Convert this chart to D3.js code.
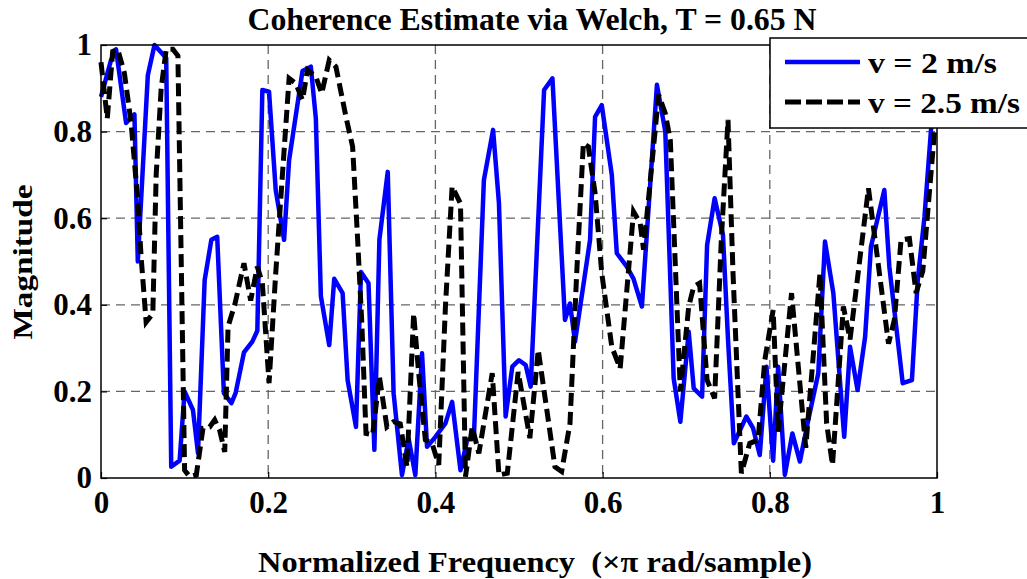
<!DOCTYPE html>
<html>
<head>
<meta charset="utf-8">
<script src="https://cdn.jsdelivr.net/npm/d3@7"></script>
<style>
  body { margin: 0; background: #fff; }
  svg text { font-family: "Liberation Serif", "DejaVu Serif", serif; font-weight: bold; }
</style>
</head>
<body>
<svg id="chart" width="1027" height="579"></svg>
<script>
// series v = 2 m/s (blue, solid)
var freqA = [0.000,0.012,0.018,0.030,0.040,0.044,0.056,0.064,0.078,0.084,0.094,0.100,0.110,0.116,0.124,0.132,0.139,0.147,0.156,0.161,
  0.171,0.181,0.187,0.193,0.201,0.209,0.219,0.225,0.241,0.251,0.257,0.263,0.273,0.279,0.289,0.295,0.305,0.311,0.320,0.327,
  0.333,0.343,0.350,0.360,0.368,0.376,0.384,0.390,0.400,0.412,0.420,0.430,0.438,0.446,0.458,0.469,0.476,0.484,0.492,0.500,
  0.508,0.514,0.530,0.540,0.555,0.561,0.567,0.585,0.591,0.599,0.611,0.617,0.629,0.637,0.647,0.665,0.675,0.685,0.693,0.703,
  0.709,0.719,0.725,0.734,0.744,0.750,0.757,0.772,0.780,0.788,0.796,0.804,0.810,0.818,0.827,0.836,0.846,0.858,0.866,0.876,
  0.889,0.896,0.905,0.914,0.921,0.937,0.943,0.959,0.970,0.977,0.985,0.993,1.000];
var magA = [0.88,0.965,0.99,0.82,0.84,0.50,0.93,1.00,0.97,0.026,0.04,0.20,0.157,0.058,0.457,0.55,0.557,0.196,0.173,0.196,
  0.29,0.315,0.34,0.896,0.892,0.665,0.55,0.734,0.94,0.95,0.83,0.42,0.307,0.46,0.427,0.226,0.118,0.476,0.45,0.065,
  0.55,0.707,0.196,0.007,0.09,0.007,0.288,0.072,0.095,0.126,0.176,0.018,0.088,0.092,0.688,0.804,0.635,0.142,0.257,0.272,
  0.261,0.211,0.896,0.923,0.365,0.403,0.315,0.55,0.834,0.861,0.70,0.519,0.488,0.46,0.396,0.908,0.80,0.23,0.13,0.338,
  0.207,0.188,0.538,0.646,0.561,0.32,0.08,0.142,0.115,0.053,0.257,0.04,0.257,0.007,0.103,0.038,0.134,0.242,0.546,0.427,
  0.095,0.303,0.203,0.326,0.534,0.665,0.488,0.219,0.226,0.457,0.603,0.808,0.85];

// series v = 2.5 m/s (black, dashed)
var freqB = [0.000,0.0075,0.014,0.020,0.028,0.036,0.044,0.048,0.054,0.062,0.066,0.072,0.078,0.086,0.092,0.100,0.106,0.114,0.122,0.130,
  0.136,0.142,0.148,0.152,0.160,0.171,0.179,0.187,0.193,0.201,0.209,0.217,0.225,0.233,0.241,0.247,0.257,0.264,0.273,0.281,
  0.293,0.301,0.307,0.312,0.317,0.325,0.333,0.342,0.350,0.358,0.366,0.374,0.380,0.388,0.396,0.404,0.412,0.420,0.430,0.436,
  0.444,0.452,0.468,0.476,0.486,0.499,0.513,0.523,0.543,0.551,0.561,0.569,0.577,0.583,0.591,0.599,0.611,0.621,0.629,0.637,
  0.645,0.649,0.667,0.675,0.681,0.693,0.703,0.709,0.716,0.725,0.734,0.742,0.750,0.756,0.766,0.776,0.786,0.794,0.804,0.810,
  0.826,0.843,0.860,0.868,0.875,0.888,0.896,0.918,0.942,0.949,0.957,0.967,0.975,0.983,0.997,1.000];
var magB = [0.96,0.83,0.985,0.99,0.935,0.82,0.64,0.51,0.36,0.38,0.70,0.90,0.99,0.99,0.975,0.018,0.003,0.007,0.115,0.118,
  0.134,0.11,0.06,0.35,0.40,0.496,0.41,0.488,0.45,0.219,0.473,0.70,0.923,0.911,0.873,0.942,0.927,0.888,0.965,0.95,
  0.834,0.765,0.55,0.357,0.103,0.10,0.234,0.118,0.13,0.125,0.026,0.38,0.242,0.088,0.08,0.03,0.396,0.673,0.634,0.003,
  0.118,0.057,0.242,0.007,0.011,0.245,0.092,0.296,0.026,0.015,0.126,0.473,0.773,0.765,0.658,0.473,0.303,0.253,0.434,0.615,
  0.588,0.527,0.885,0.842,0.78,0.20,0.396,0.442,0.45,0.226,0.184,0.55,0.827,0.473,0.011,0.08,0.088,0.272,0.388,0.107,
  0.427,0.07,0.473,0.126,0.03,0.396,0.32,0.669,0.31,0.365,0.55,0.553,0.427,0.478,0.80,0.83];

var tickVals = [0, 0.2, 0.4, 0.6, 0.8, 1];
var seriesNames = ["v = 2 m/s", "v = 2.5 m/s"];

(function() {
  // plot box
  var left = 101, right = 937, plotTop = 45, bottom = 478;

  var svg = d3.select("#chart");

  var x = d3.scaleLinear().domain([0, 1]).range([left, right]);
  var y = d3.scaleLinear().domain([0, 1]).range([bottom, plotTop]);

  // grid
  var grid = svg.append("g");
  grid.selectAll("line.gx")
      .data(tickVals.slice(1, -1))
      .enter().append("line")
      .attr("class", "gx")
      .attr("x1", function(d) { return x(d); })
      .attr("x2", function(d) { return x(d); })
      .attr("y1", plotTop).attr("y2", bottom);
  grid.selectAll("line.gy")
      .data(tickVals.slice(1, -1))
      .enter().append("line")
      .attr("class", "gy")
      .attr("y1", function(d) { return y(d); })
      .attr("y2", function(d) { return y(d); })
      .attr("x1", left).attr("x2", right);
  grid.selectAll("line")
      .attr("stroke", "#666")
      .attr("stroke-width", 1.3)
      .attr("stroke-dasharray", "9,6");

  // lines
  var line = d3.line()
      .x(function(d) { return x(d[0]); })
      .y(function(d) { return y(d[1]); });

  svg.append("path")
      .datum(d3.zip(freqA, magA))
      .attr("d", line)
      .attr("fill", "none")
      .attr("stroke", "#0000ff")
      .attr("stroke-width", 4.5)
      .attr("stroke-linejoin", "round");

  svg.append("path")
      .datum(d3.zip(freqB, magB))
      .attr("d", line)
      .attr("fill", "none")
      .attr("stroke", "#000")
      .attr("stroke-width", 5)
      .attr("stroke-dasharray", "13,6");

  // box
  svg.append("rect")
      .attr("x", left).attr("y", plotTop)
      .attr("width", right - left).attr("height", bottom - plotTop)
      .attr("fill", "none")
      .attr("stroke", "#000")
      .attr("stroke-width", 1.5);

  // axes
  var fmt = d3.format("~g");
  var xAxis = svg.append("g")
      .attr("transform", "translate(0," + bottom + ")")
      .call(d3.axisBottom(x).tickValues(tickVals).tickFormat(fmt).tickSizeInner(-6).tickSizeOuter(0).tickPadding(13));
  var yAxis = svg.append("g")
      .attr("transform", "translate(" + left + ",0)")
      .call(d3.axisLeft(y).tickValues(tickVals).tickFormat(fmt).tickSizeInner(-6).tickSizeOuter(0).tickPadding(9));
  [xAxis, yAxis].forEach(function(a) {
    a.select(".domain").remove();
    a.selectAll("line").attr("stroke", "#000").attr("stroke-width", 1.2);
    a.selectAll("text")
      .attr("fill", "#000")
      .style("font-family", "'Liberation Serif', serif")
      .style("font-weight", "bold")
      .style("font-size", "31px");
  });

  // title and labels
  svg.append("text")
      .attr("x", 532).attr("y", 30)
      .attr("text-anchor", "middle")
      .attr("textLength", 569).attr("lengthAdjust", "spacingAndGlyphs")
      .style("font-size", "31px")
      .text("Coherence Estimate via Welch, T = 0.65 N");

  svg.append("text")
      .attr("x", 535).attr("y", 572)
      .attr("text-anchor", "middle")
      .attr("textLength", 554).attr("lengthAdjust", "spacingAndGlyphs")
      .style("font-size", "30px")
      .style("white-space", "pre")
      .text("Normalized Frequency  (\u00d7\u03c0 rad/sample)");

  svg.append("text")
      .attr("transform", "translate(32,262) rotate(-90)")
      .attr("text-anchor", "middle")
      .attr("textLength", 155).attr("lengthAdjust", "spacingAndGlyphs")
      .style("font-size", "28px")
      .text("Magnitude");

  // legend
  var lg = svg.append("g");
  lg.append("rect")
      .attr("x", 770).attr("y", 38)
      .attr("width", 270).attr("height", 90)
      .attr("fill", "#fff")
      .attr("stroke", "#000")
      .attr("stroke-width", 1.5);
  var legendStyles = [
    {color: "#0000ff", dash: null, w: 4.5, len: 129},
    {color: "#000", dash: "16,5", w: 5, len: 152}
  ];
  seriesNames.forEach(function(name, i) {
    var ly = 62 + i * 40;
    lg.append("line")
      .attr("x1", 785).attr("x2", 860)
      .attr("y1", ly).attr("y2", ly)
      .attr("stroke", legendStyles[i].color)
      .attr("stroke-width", legendStyles[i].w)
      .attr("stroke-dasharray", legendStyles[i].dash);
    lg.append("text")
      .attr("x", 868).attr("y", ly + 11)
      .attr("textLength", legendStyles[i].len).attr("lengthAdjust", "spacingAndGlyphs")
      .style("font-size", "30px")
      .text(name);
  });
})();
</script>
</body>
</html>
